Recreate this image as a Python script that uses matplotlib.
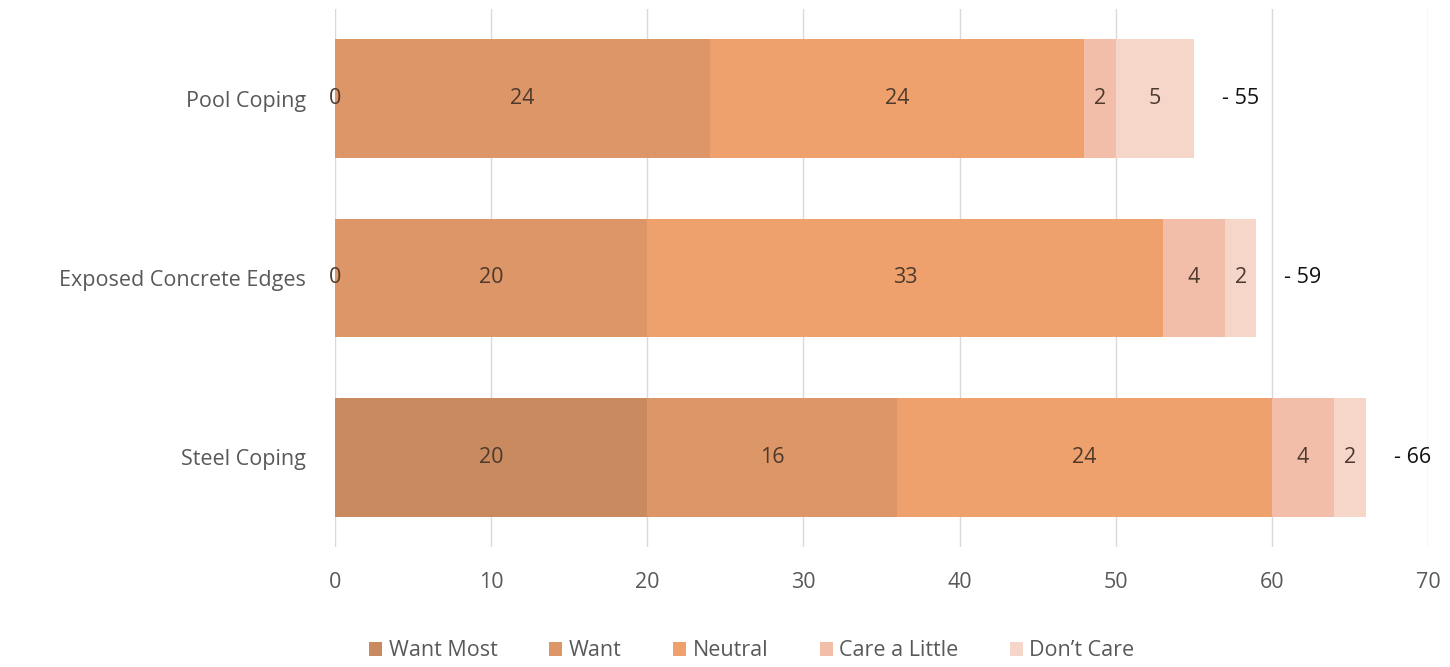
import numpy as np
import matplotlib.pyplot as plt

plt.rcParams['font.family'] = ['Open Sans', 'DejaVu Sans']

## Data ##
categories = ["Pool Coping", "Exposed Concrete Edges", "Steel Coping"]
series_names = ["Want Most", "Want", "Neutral", "Care a Little", "Don\u2019t Care"]
want_most = [0, 0, 20]
want = [24, 20, 16]
neutral = [24, 33, 24]
care_little = [2, 4, 4]
dont_care = [5, 2, 2]
totals = [55, 59, 66]

colors = ["#C98A5F", "#DC9668", "#EEA06D", "#F2BDA9", "#F7D6CA"]
fs = 15.5

## Figure ##
fig = plt.figure(figsize=(14.5, 6.67), dpi=100)
ax = fig.add_axes([335 / 1450, 1 - 547 / 667, (1428 - 335) / 1450, 538 / 667])

y = np.arange(len(categories))
left = np.zeros(len(categories))
all_series = [want_most, want, neutral, care_little, dont_care]
for vals, name, col in zip(all_series, series_names, colors):
    ax.barh(y, vals, left=left, height=0.66, color=col, label=name, zorder=2)
    for yi, v, l in zip(y, vals, left):
        xpos = l + v / 2
        ax.text(xpos, yi, str(v), ha="center", va="center",
                fontsize=fs, color="#4d3a2c", zorder=3)
    left = left + np.array(vals)

for yi, t in zip(y, totals):
    ax.text(t + 1.8, yi, "- " + str(t), ha="left", va="center",
            fontsize=fs, color="#111111")

## Axes styling ##
ax.set_xlim(0, 70)
ax.set_ylim(len(categories) - 0.5, -0.5)
ax.set_xticks(range(0, 71, 10))
ax.set_yticks(y)
ax.set_yticklabels(categories)
ax.xaxis.grid(True, color="#d9d9d9", linewidth=1, zorder=0)
ax.set_axisbelow(True)
for s in ax.spines.values():
    s.set_visible(False)
ax.tick_params(axis="both", length=0, labelsize=fs, colors="#595959")
ax.tick_params(axis="x", pad=18)
ax.tick_params(axis="y", pad=21)

ax.legend(loc="center", bbox_to_anchor=(752 / 1450, 1 - 651 / 667),
          bbox_transform=fig.transFigure, ncol=5, frameon=False,
          fontsize=fs, handlelength=0.6, handleheight=0.6,
          columnspacing=2.4, handletextpad=0.3, labelcolor="#595959")

plt.savefig("out.png", dpi=100)
